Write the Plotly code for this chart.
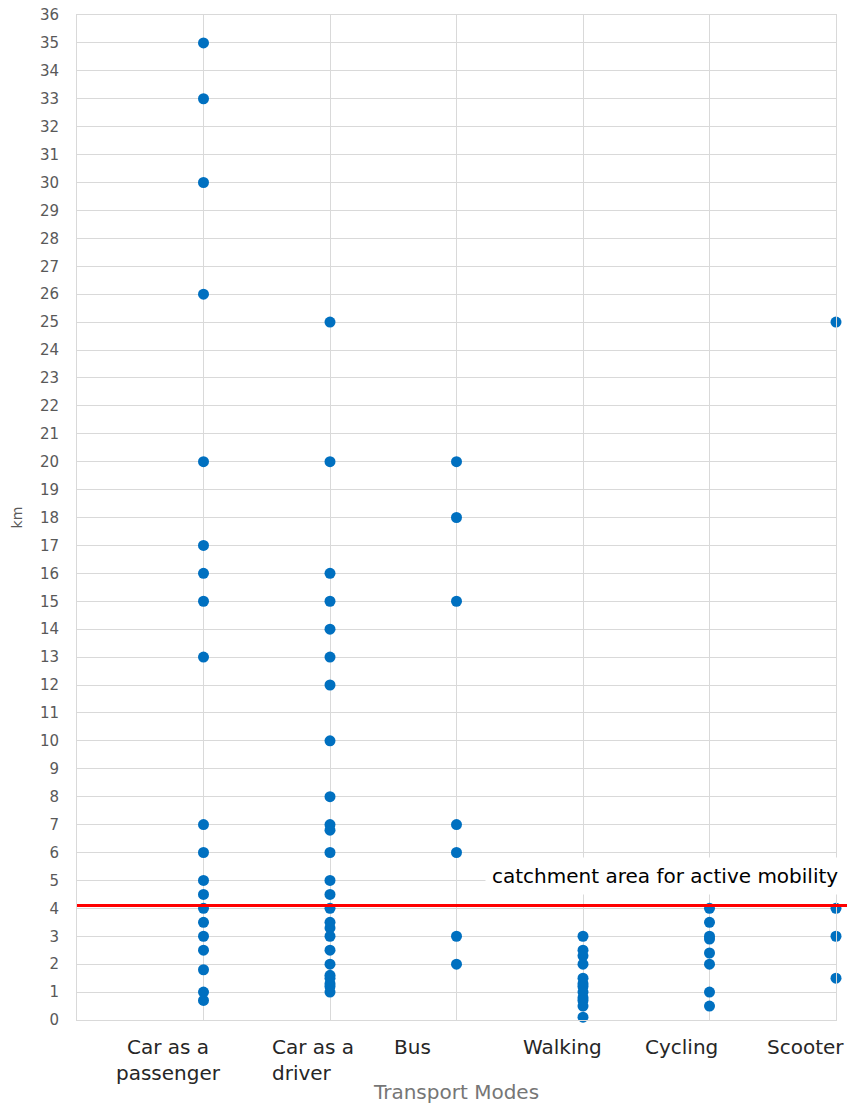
import plotly.graph_objects as go

# ---- data (km per respondent, by transport mode) ----
categories = ["Car as a passenger", "Car as a driver", "Bus", "Walking", "Cycling", "Scooter"]
car_passenger = [35, 33, 30, 26, 20, 17, 16, 15, 13, 7, 6, 5, 4.5, 4, 3.5, 3, 2.5, 1.8, 1, 0.7]
car_driver = [25, 20, 16, 15, 14, 13, 12, 10, 8, 7, 6.8, 6, 5, 4.5, 4, 3.5, 3.3, 3, 2.5, 2, 1.6, 1.5, 1.3, 1.2, 1.0]
bus = [20, 18, 15, 7, 6, 3, 2]
walking = [3, 2.5, 2.3, 2, 1.5, 1.3, 1.2, 1, 0.8, 0.7, 0.5, 0.1]
cycling = [4, 3.5, 3, 2.9, 2.4, 2, 1, 0.5]
scooter = [25, 4, 3, 1.5]
series = [car_passenger, car_driver, bus, walking, cycling, scooter]
threshold_km = 4.1
threshold_label = "catchment area for active mobility"
y_ticks = list(range(0, 37))

# ---- layout helpers (positions / styles) ----
label_texts = ["Car as a<br>passenger", "Car as a<br>driver", "Bus", "Walking", "Cycling", "Scooter"]
label_x = [0.72, 1.526, 2.656, 3.84, 4.775, 5.76]
label_anchor = ["center", "left", "center", "center", "center", "center"]

BLUE = "#0070C0"
GRID = "#D9D9D9"
FONT = "DejaVu Sans"

fig = go.Figure()
for i, (cat, vals) in enumerate(zip(categories, series)):
    fig.add_trace(go.Scatter(
        x=[i + 1] * len(vals), y=vals, mode="markers", name=cat,
        marker=dict(size=11, color=BLUE),
        cliponaxis=False, showlegend=False,
    ))

fig.add_shape(type="line", xref="paper", yref="y", x0=0, x1=1.015,
              y0=threshold_km, y1=threshold_km,
              line=dict(color="#FF0000", width=3), layer="above")

fig.add_annotation(x=4.645, y=5.17, xref="x", yref="y", text=threshold_label,
                   showarrow=False, font=dict(family=FONT, size=20, color="#000000"),
                   bgcolor="#FFFFFF", borderpad=6)

for txt, lx, anc in zip(label_texts, label_x, label_anchor):
    fig.add_annotation(x=lx, y=0, xref="x", yref="paper", text=txt,
                       showarrow=False, xanchor=anc, yanchor="top", align=anc,
                       yshift=-13, font=dict(family=FONT, size=20, color="#262626"))

fig.update_layout(
    width=847, height=1104,
    margin=dict(l=77, r=11, t=15, b=83.5, autoexpand=False),
    paper_bgcolor="white", plot_bgcolor="white",
    font=dict(family=FONT, color="#595959"),
    xaxis=dict(range=[0, 6], tickmode="linear", tick0=0, dtick=1, showticklabels=False,
               showgrid=True, gridcolor=GRID, gridwidth=1, zeroline=False, automargin=False,
               showline=True, linecolor=GRID, linewidth=1, mirror=True, fixedrange=True,
               title=dict(text="Transport Modes", standoff=69,
                          font=dict(family=FONT, size=20, color="#767676"))),
    yaxis=dict(range=[0, 36], tickmode="array", tickvals=y_ticks, ticktext=[str(v) for v in y_ticks],
               showgrid=True, gridcolor=GRID, gridwidth=1, zeroline=False, automargin=False,
               showline=True, linecolor=GRID, linewidth=1, mirror=True,
               tickfont=dict(family=FONT, size=15, color="#595959"),
               ticks="", ticklabelstandoff=14, ticklabeloverflow="allow",
               title=dict(text="km", standoff=14, font=dict(family=FONT, size=14, color="#595959"))),
)

# remove the browser's default 8px body margin so the figure sits at the page origin
fig.write_html("out.html", config={"displayModeBar": False},
               post_script="document.body.style.margin='0';document.body.style.overflow='hidden';")
